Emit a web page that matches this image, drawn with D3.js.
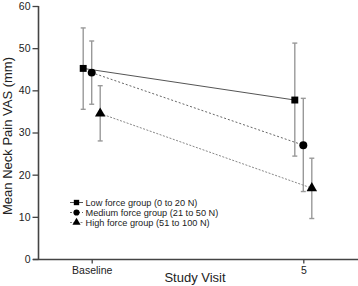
<!DOCTYPE html>
<html>
<head>
<meta charset="utf-8">
<script src="https://cdn.jsdelivr.net/npm/d3@7"></script>
<style>
  body { margin: 0; background: #fff; }
  svg { display: block; font-family: "Liberation Sans", Arial, sans-serif; }
</style>
</head>
<body>
<svg id="chart"></svg>
<script>
// data
const visits = ['Baseline', '5'];
const groups = ['Low force group (0 to 20 N)', 'Medium force group (21 to 50 N)', 'High force group (51 to 100 N)'];
const means = [[45.2, 37.7], [44.2, 27.0], [34.5, 16.8]];
const upper = [[54.8, 51.2], [51.7, 38.1], [41.1, 23.9]];
const lower = [[35.5, 24.4], [36.7, 16.0], [28.0, 9.6]];
const yTicks = [0, 10, 20, 30, 40, 50, 60];

const width = 358;
const height = 286;

const svg = d3.select('svg#chart').attr('width', width).attr('height', height);

const x = d3.scalePoint().domain(visits).range([91.7, 303.3]);
const offset = d3.scalePoint().domain(groups).range([-8.5, 8.5]);
const y = d3.scaleLinear().domain([0, 60]).range([259, 6]);

const lineStyle = [
  { stroke: '#555', dash: null },
  { stroke: '#666', dash: '2,2' },
  { stroke: '#888', dash: '2,1.5' }
];

// y axis
const yAxis = svg.append('g')
  .attr('transform', 'translate(38.5,0)')
  .call(d3.axisLeft(y).tickValues(yTicks).tickSize(6).tickPadding(2));
yAxis.select('.domain').attr('stroke', '#444').attr('stroke-width', 1.6).attr('d', 'M0,' + y(60) + 'V259');
yAxis.selectAll('.tick line').attr('stroke', '#444').attr('stroke-width', 1.3);
yAxis.selectAll('.tick text').attr('font-size', 10.5).attr('fill', '#222')
  .style('font-family', '"Liberation Sans", Arial, sans-serif');

// x axis
const xAxis = svg.append('g')
  .attr('transform', 'translate(0,259.5)')
  .call(d3.axisBottom(x).tickSize(4).tickPadding(3));
xAxis.select('.domain').attr('stroke', '#444').attr('stroke-width', 1.6).attr('d', 'M33,0H358');
xAxis.selectAll('.tick line').attr('stroke', '#444').attr('stroke-width', 1.3);
xAxis.selectAll('.tick text').attr('font-size', 10.5).attr('fill', '#222')
  .style('font-family', '"Liberation Sans", Arial, sans-serif');

// axis titles
svg.append('text')
  .attr('transform', 'translate(12,136) rotate(-90)')
  .attr('text-anchor', 'middle')
  .attr('font-size', 13)
  .attr('fill', '#222')
  .text('Mean Neck Pain VAS (mm)');

svg.append('text')
  .attr('x', 195)
  .attr('y', 282)
  .attr('text-anchor', 'middle')
  .attr('font-size', 13)
  .attr('fill', '#222')
  .text('Study Visit');

// error bars
groups.forEach((g, gi) => {
  visits.forEach((v, vi) => {
    const cx = x(v) + offset(g);
    const eb = svg.append('g').attr('stroke', '#999').attr('stroke-width', 1.4);
    eb.append('line').attr('x1', cx).attr('x2', cx).attr('y1', y(upper[gi][vi])).attr('y2', y(lower[gi][vi]));
    eb.append('line').attr('x1', cx - 2.5).attr('x2', cx + 2.5).attr('y1', y(upper[gi][vi])).attr('y2', y(upper[gi][vi]));
    eb.append('line').attr('x1', cx - 2.5).attr('x2', cx + 2.5).attr('y1', y(lower[gi][vi])).attr('y2', y(lower[gi][vi]));
  });
});

// lines
const line = d3.line().x(d => d[0]).y(d => d[1]);
groups.forEach((g, gi) => {
  const pts = visits.map((v, vi) => [x(v) + offset(g), y(means[gi][vi])]);
  svg.append('path')
    .attr('d', line(pts))
    .attr('fill', 'none')
    .attr('stroke', lineStyle[gi].stroke)
    .attr('stroke-width', 1)
    .attr('stroke-dasharray', lineStyle[gi].dash);
});

// markers
const symbols = [d3.symbolSquare, d3.symbolCircle, d3.symbolTriangle];
const sizes = [48, 50, 48];
groups.forEach((g, gi) => {
  visits.forEach((v, vi) => {
    svg.append('path')
      .attr('d', d3.symbol().type(symbols[gi]).size(sizes[gi])())
      .attr('transform', 'translate(' + (x(v) + offset(g)) + ',' + y(means[gi][vi]) + ')')
      .attr('fill', '#000');
  });
});

// legend
const legend = svg.append('g').attr('transform', 'translate(70,202.5)');
groups.forEach((g, gi) => {
  const row = legend.append('g').attr('transform', 'translate(0,' + gi * 10 + ')');
  row.append('line').attr('x1', 0).attr('x2', 13).attr('y1', 0).attr('y2', 0)
    .attr('stroke', lineStyle[gi].stroke).attr('stroke-width', 1)
    .attr('stroke-dasharray', lineStyle[gi].dash);
  row.append('path')
    .attr('d', d3.symbol().type(symbols[gi]).size(sizes[gi] * 0.6)())
    .attr('transform', 'translate(6.5,0)')
    .attr('fill', '#000');
  row.append('text')
    .attr('x', 15.5)
    .attr('y', 3.3)
    .attr('font-size', 9.2)
    .attr('fill', '#222')
    .text(g);
});
</script>
</body>
</html>
